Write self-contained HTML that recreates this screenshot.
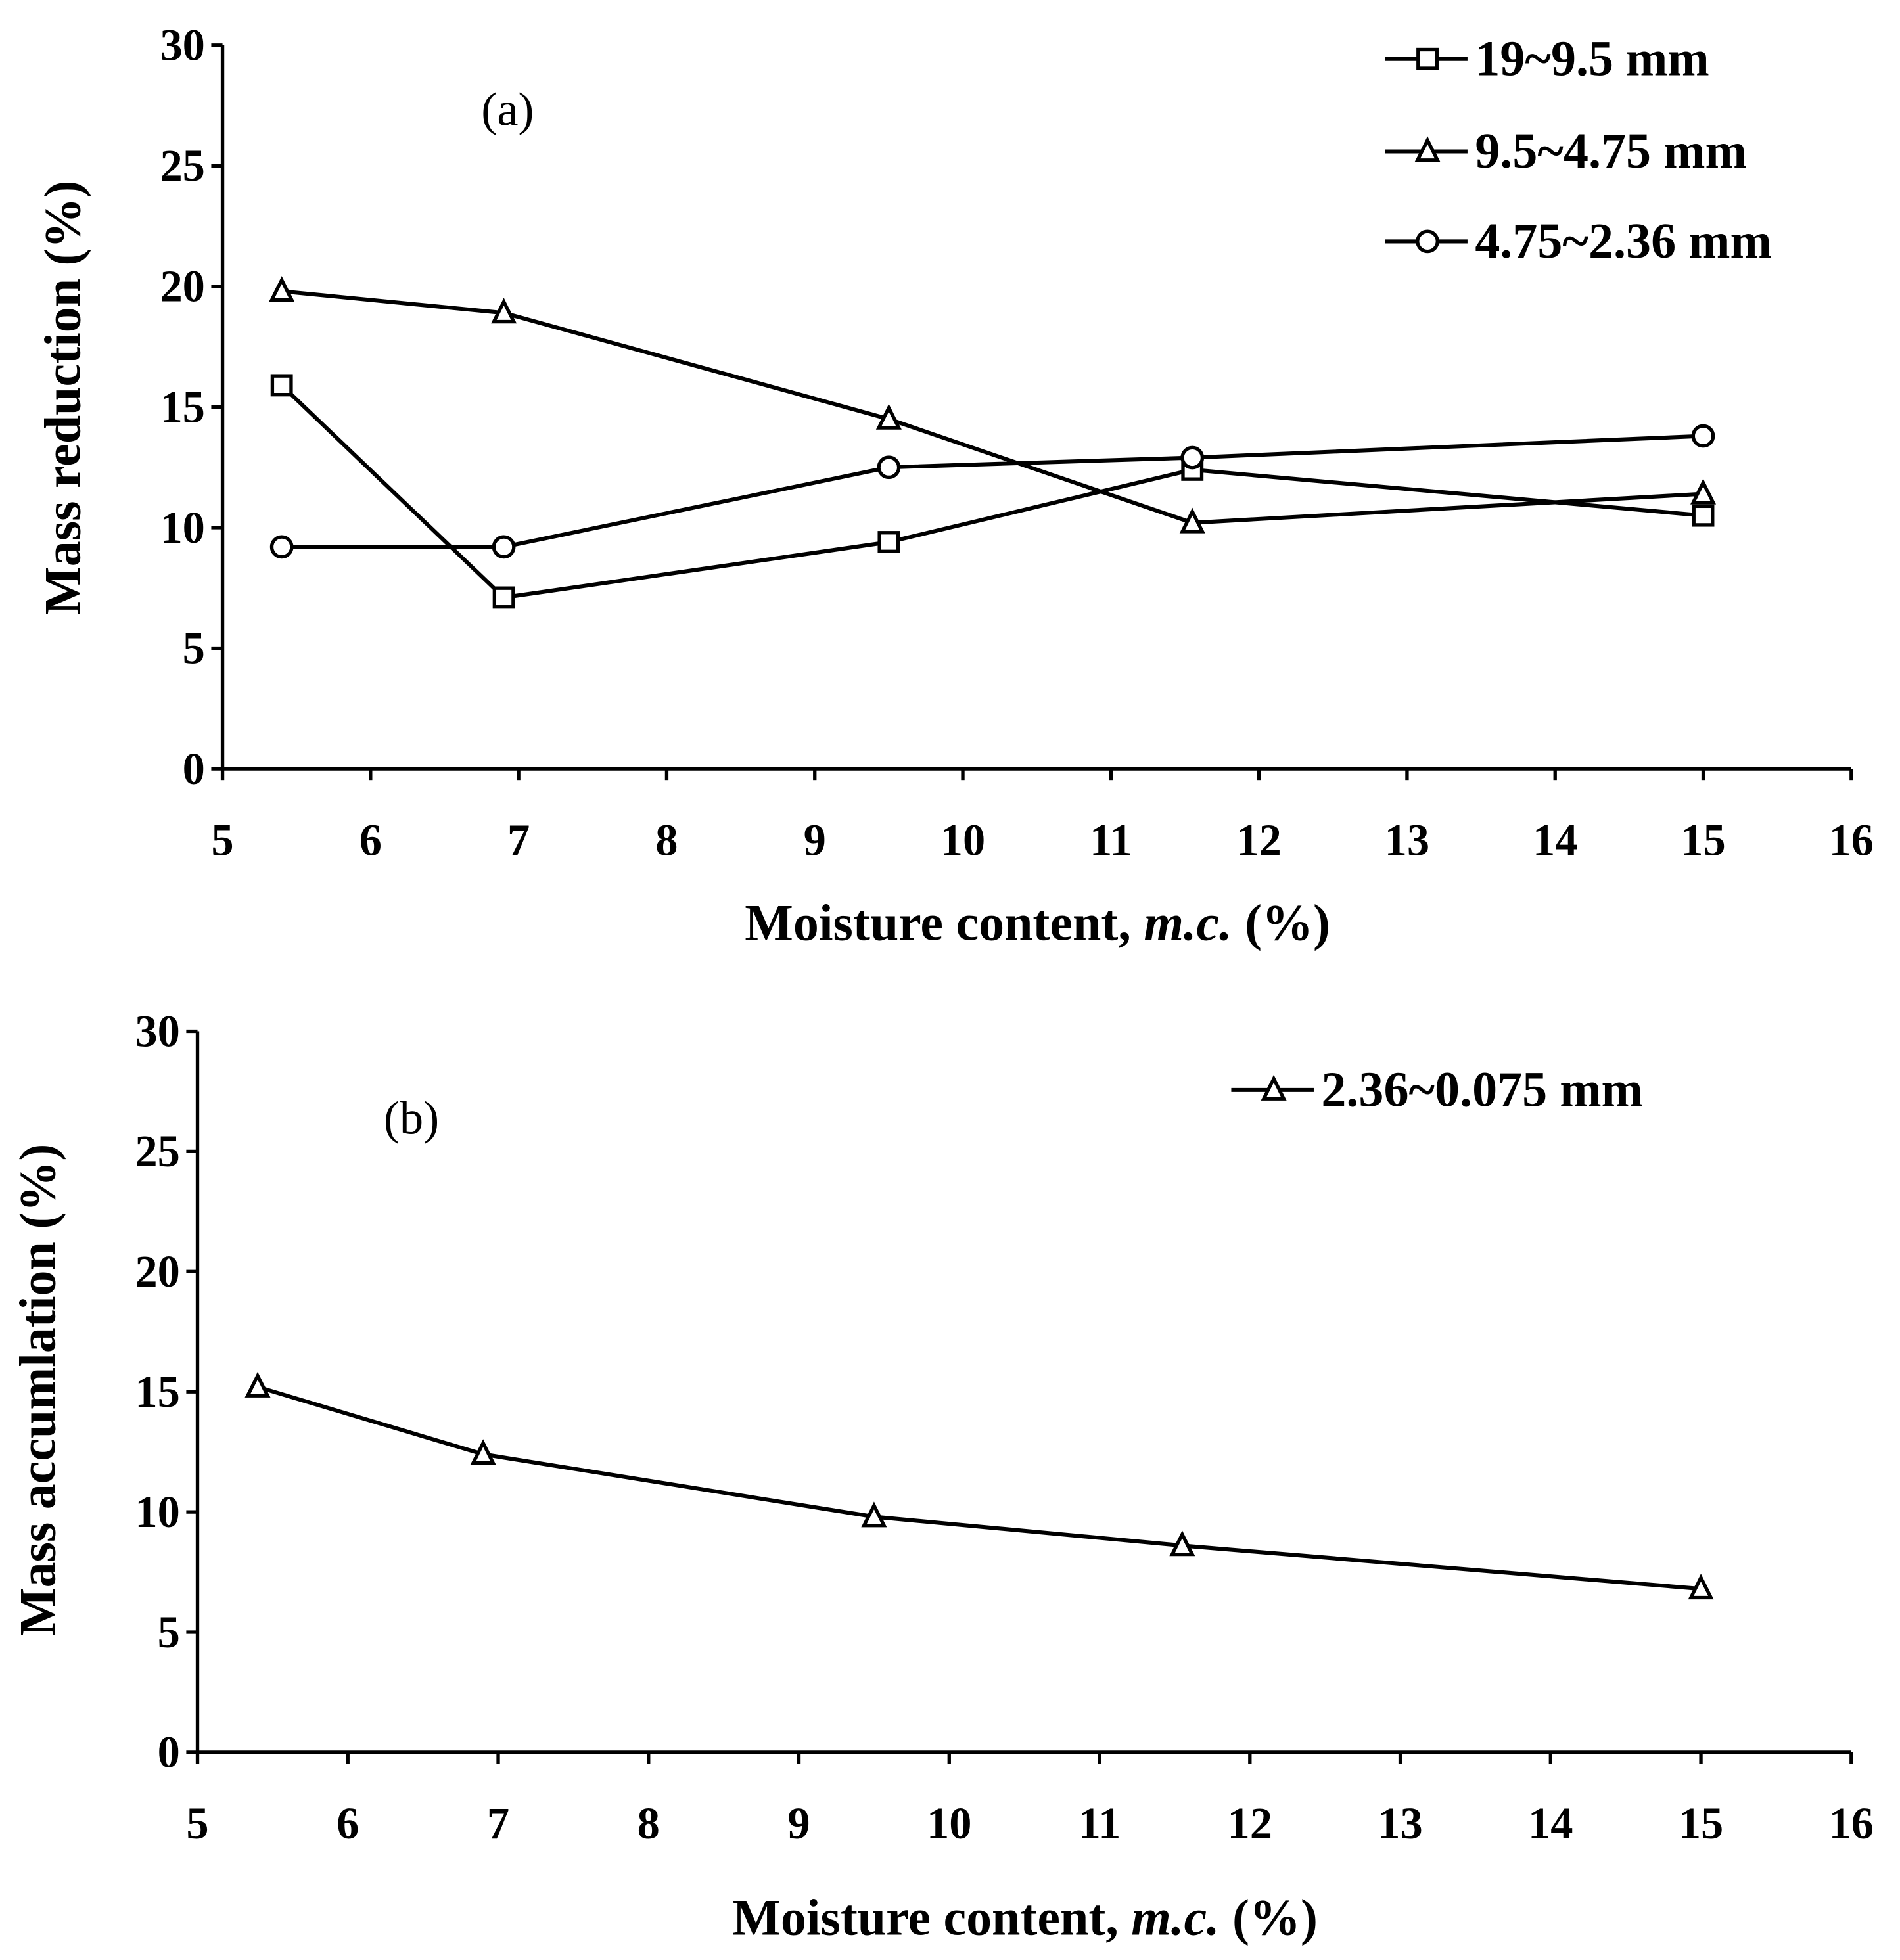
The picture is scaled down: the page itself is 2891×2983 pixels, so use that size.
<!DOCTYPE html>
<html><head><meta charset="utf-8"><style>html,body{margin:0;padding:0;background:#fff}svg{display:block}</style></head>
<body>
<svg id="fig" xmlns="http://www.w3.org/2000/svg" width="2891" height="2983" viewBox="0 0 1520 1568" font-family="'Liberation Serif', serif" font-weight="bold">
<rect width="1520" height="1568" fill="#fff"/>
</svg>
<script>
const xValues=[5.4,6.9,9.5,11.55,15];
const seriesSquare=[15.9,7.1,9.4,12.4,10.5];
const seriesTriangle=[19.8,18.9,14.5,10.2,11.4];
const seriesCircle=[9.2,9.2,12.5,12.9,13.8];
const seriesAccum=[15.2,12.4,9.8,8.6,6.8];
const xTicks=[5,6,7,8,9,10,11,12,13,14,15,16];
const yTicks=[0,5,10,15,20,25,30];
const legendA=["19~9.5 mm","9.5~4.75 mm","4.75~2.36 mm"];
const legendB=["2.36~0.075 mm"];

const NS="http://www.w3.org/2000/svg";
const svg=document.getElementById('fig');
function mk(tag,attrs,parent){const e=document.createElementNS(NS,tag);for(const k in attrs)e.setAttribute(k,attrs[k]);(parent||svg).appendChild(e);return e;}
function marker(g,type,x,y){
  let m;
  if(type==='square'){m=mk('rect',{x:x-7.5,y:y-7.5,width:15,height:15,fill:'#fff',stroke:'#000','stroke-width':2.8},g);}
  else if(type==='triangle'){m=mk('polygon',{points:`${x},${y-9} ${x-8},${y+7} ${x+8},${y+7}`,fill:'#fff',stroke:'#000','stroke-width':2.8},g);}
  else {m=mk('circle',{cx:x,cy:y,r:8,fill:'#fff',stroke:'#000','stroke-width':2.8},g);}
  
  
}
function panel(cfg){
  const g=mk('g',{});
  
  
  const sx=v=>cfg.x0+(v-5)/(16-5)*(cfg.x1-cfg.x0);
  const sy=v=>cfg.y0-(v/30)*(cfg.y0-cfg.y1);
  const ax=mk('g',{stroke:'#000','stroke-width':2.8},g);
  
  
  mk('line',{x1:cfg.x0,y1:cfg.y1,x2:cfg.x0,y2:cfg.y0},ax);
  mk('line',{x1:cfg.x0,y1:cfg.y0,x2:cfg.x1,y2:cfg.y0},ax);
  yTicks.forEach(t=>{
    mk('line',{x1:cfg.x0-9,y1:sy(t),x2:cfg.x0,y2:sy(t)},ax);
    const tx=mk('text',{x:cfg.x0-14,y:sy(t)+12,'text-anchor':'end','font-size':36},g);
    tx.textContent=t;
    
    
  });
  xTicks.forEach(t=>{
    mk('line',{x1:sx(t),y1:cfg.y0,x2:sx(t),y2:cfg.y0+9},ax);
    const tx=mk('text',{x:sx(t),y:cfg.y0+69,'text-anchor':'middle','font-size':36},g);
    tx.textContent=t;
    
    
  });
  const xt=mk('text',{x:cfg.xtX,y:cfg.xtY,'text-anchor':'middle','font-size':41},g);
  xt.innerHTML='Moisture content, <tspan font-style="italic">m.c.</tspan> (%)';
  
  
  const yt=mk('text',{x:0,y:0,'text-anchor':'middle','font-size':41,transform:`translate(${cfg.ytX},${cfg.ytY}) rotate(-90)`},g);
  yt.textContent=cfg.ytitle;
  
  
  const pl=mk('text',{x:cfg.plX,y:cfg.plY,'font-size':38,'font-weight':'normal'},g);
  pl.textContent=cfg.plabel;
  
  
  cfg.series.forEach((s,i)=>{
    const sg=mk('g',{},g);
    
    
    const pts=xValues.map((x,j)=>sx(x)+','+sy(s.vals[j])).join(' ');
    const ln=mk('polyline',{points:pts,fill:'none',stroke:'#000','stroke-width':3.2},sg);
    
    
    xValues.forEach((x,j)=>marker(sg,s.type,sx(x),sy(s.vals[j])));
    const ly=cfg.legY[i];
    const lg=mk('g',{},g);
    
    
    mk('line',{x1:cfg.legX,y1:ly,x2:cfg.legX+66,y2:ly,stroke:'#000','stroke-width':3.2},lg);
    marker(lg,s.type,cfg.legX+34,ly);
    const lt=mk('text',{x:cfg.legX+72,y:ly+13,'font-size':40},lg);
    lt.textContent=s.label;
  });
}
panel({name:'panel-a',x0:178,x1:1481,y0:615,y1:36,xtX:830,xtY:752,ytX:64,ytY:318,ytitle:'Mass reduction (%)',plX:385,plY:100,plabel:'(a)',
  legX:1108,legY:[47,121,193],
  series:[{type:'square',vals:seriesSquare,label:legendA[0]},{type:'triangle',vals:seriesTriangle,label:legendA[1]},{type:'circle',vals:seriesCircle,label:legendA[2]}]});
panel({name:'panel-b',x0:158,x1:1481,y0:1402,y1:825,xtX:820,xtY:1548,ytX:44,ytY:1112,ytitle:'Mass accumlation (%)',plX:307,plY:907,plabel:'(b)',
  legX:985,legY:[872],
  series:[{type:'triangle',vals:seriesAccum,label:legendB[0]}]});
</script>
</body></html>
